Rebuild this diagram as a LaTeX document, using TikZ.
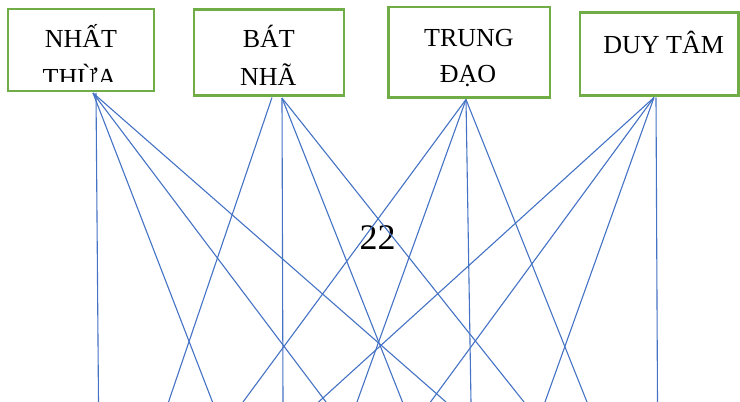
\documentclass[tikz,border=0pt]{standalone}
\usepackage{fontspec}
\setmainfont{Liberation Serif}
\definecolor{lineblue}{HTML}{4472C4}
\definecolor{boxgreen}{HTML}{70AD47}
\begin{document}
\begin{tikzpicture}[x=1pt,y=-1pt,
  box/.style={draw=boxgreen, line width=2.8pt, fill=white, inner sep=0pt},
  lbl/.style={font=\fontsize{26}{31}\selectfont, anchor=base, inner sep=0pt},
  link/.style={draw=lineblue, line width=1.1pt}]
\useasboundingbox (0,0) rectangle (740,402);
% boxes
\node[box, minimum width=146pt, minimum height=82pt] (nt) at (81,50) {};
\node[box, minimum width=150pt, minimum height=86pt] (bn) at (269,52.5) {};
\node[box, minimum width=161.5pt, minimum height=90.5pt] (td) at (469.25,52.25) {};
\node[box, minimum width=158.5pt, minimum height=83pt] (dt) at (659.25,54) {};
% labels
\node[lbl] (nt1) at (81,47.3) {NHẤT};
\begin{scope}
  \clip (10,10) rectangle (152,81.5);
  \node[lbl] (nt2) at (79.5,86) {THỪA};
\end{scope}
\node[lbl] (bn1) at (268.8,47.5) {BÁT};
\node[lbl] (bn2) at (268.3,85) {NHÃ};
\node[lbl] (td1) at (469,46) {TRUNG};
\node[lbl] (td2) at (468,82.5) {ĐẠO};
\node[lbl] (dt1) at (663.7,53.3) {DUY TÂM};
\node[font=\fontsize{36}{40}\selectfont, anchor=base, inner sep=0pt] (num) at (377.7,249.3) {22};
% origins
\coordinate (nto) at (93,93);
\coordinate (ntv) at (96,93);
\coordinate (bnl) at (272,97.5);
\coordinate (bno) at (282,98);
\coordinate (tdo) at (466,99.5);
\coordinate (dto) at (654,97.5);
\coordinate (dtv) at (656,97.5);
% bottom ends
\foreach \n/\x in {a1/98.5,a2/212.5,a3/326,a4/446,
                   b1/168.5,b2/283,b3/402.5,b4/524,
                   c1/243,c2/357,c3/471,c4/587,
                   d1/318.5,d2/430.5,d3/545,d4/657.5}
  \coordinate (\n) at (\x,402);
% connectors
\draw[link] (ntv) -- (a1);
\draw[link] (nto) -- (a2);
\draw[link] (nto) -- (a3);
\draw[link] (nto) -- (a4);
\draw[link] (bnl) -- (b1);
\draw[link] (bno) -- (b2);
\draw[link] (bno) -- (b3);
\draw[link] (bno) -- (b4);
\draw[link] (tdo) -- (c1);
\draw[link] (tdo) -- (c2);
\draw[link] (tdo) -- (c3);
\draw[link] (tdo) -- (c4);
\draw[link] (dto) -- (d1);
\draw[link] (dto) -- (d2);
\draw[link] (dto) -- (d3);
\draw[link] (dtv) -- (d4);
\end{tikzpicture}
\end{document}
